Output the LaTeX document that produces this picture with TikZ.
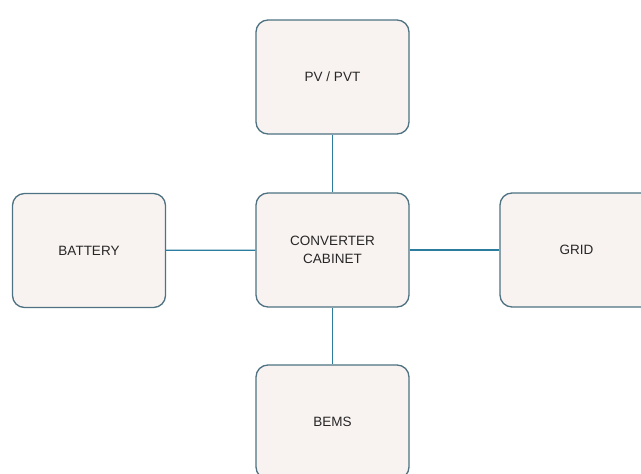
\documentclass[tikz,border=0pt]{standalone}
\usepackage{fontspec}
\setmainfont{Liberation Sans}
\definecolor{boxfill}{HTML}{F8F3F1}
\definecolor{boxdraw}{HTML}{4E7282}
\definecolor{linkcol}{HTML}{2C7CA0}
\begin{document}
\begin{tikzpicture}[x=1pt,y=-1pt,
  unit/.style={draw=boxdraw, fill=boxfill, line width=1.3pt, rounded corners=12pt,
    minimum width=153pt, minimum height=114pt, inner sep=0pt, align=center,
    font=\fontsize{13.5}{18}\selectfont, text=black!85},
  link/.style={draw=linkcol, line width=1.3pt}]
\useasboundingbox[fill=white] (0,0) rectangle (641,474);
\node[unit] (pv) at (332.5,77) {PV / PVT};
\node[unit] (cc) at (332.5,250) {CONVERTER\\CABINET};
\node[unit] (bat) at (89,250.5) {BATTERY};
\node[unit] (grid) at (576.5,250) {GRID};
\node[unit] (bems) at (332.5,422) {BEMS};
\draw[link] (pv) -- (cc);
\draw[link] (cc) -- (bems);
\draw[link] (bat) -- (cc);
\draw[link] (cc) -- (grid);
\end{tikzpicture}
\end{document}
